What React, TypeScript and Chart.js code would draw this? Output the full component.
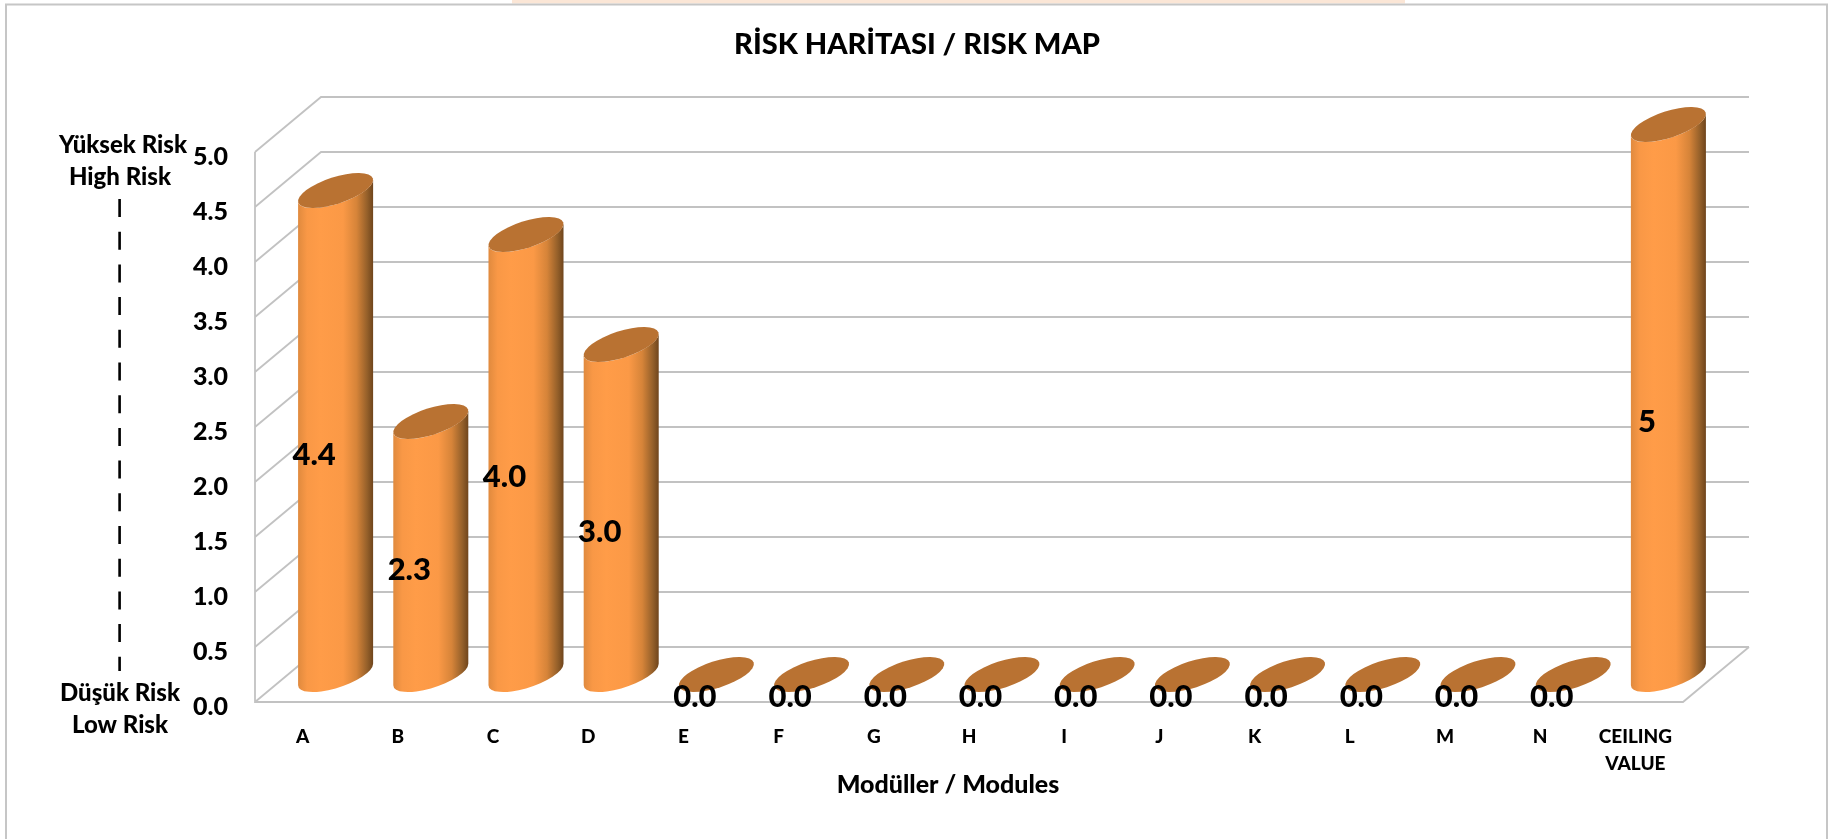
import React, { useEffect, useRef } from "react";
import { Chart, BarController, BarElement, CategoryScale, LinearScale, Title } from "chart.js";

const categories: (string | string[])[] = ["A", "B", "C", "D", "E", "F", "G", "H", "I", "J", "K", "L", "M", "N", ["CEILING", "VALUE"]];
const riskValues = [4.4, 2.3, 4.0, 3.0, 0, 0, 0, 0, 0, 0, 0, 0, 0, 0, 5];
const valueLabels = ["4.4", "2.3", "4.0", "3.0", "0.0", "0.0", "0.0", "0.0", "0.0", "0.0", "0.0", "0.0", "0.0", "0.0", "5"];
const yMin = 0;
const yMax = 5;
const yStep = 0.5;
const chartTitle = "RİSK HARİTASI / RISK MAP";
const xAxisTitle = "Modüller / Modules";
const highRiskLines = ["Yüksek Risk", "High Risk"];
const lowRiskLines = ["Düşük Risk", "Low Risk"];

const FONT = "Lato, Carlito, Calibri, sans-serif";
const DEPTH_X = 33;
const DEPTH_Y = 27.5;
const GRID = "#c2c2c2";

const A = 39.2;
const B = 13.3;
const ROT = (-18 * Math.PI) / 180;
const T0 = Math.atan((-B / A) * Math.tan(ROT));

class CylinderElement extends BarElement {
  static id = "cylinder";
  static defaults = BarElement.defaults;
  draw(ctx: CanvasRenderingContext2D) {
    const { x, y, base } = (this as any).getProps(["x", "y", "base"]);
    const halfW = Math.sqrt(A * A * Math.cos(ROT) ** 2 + B * B * Math.sin(ROT) ** 2);
    const dy = ((A * A - B * B) * Math.sin(ROT) * Math.cos(ROT)) / halfW;
    ctx.save();
    if (base - y > 0.5) {
      const g = ctx.createLinearGradient(x - halfW, 0, x + halfW, 0);
      g.addColorStop(0, "#e08a3e");
      g.addColorStop(0.12, "#f99846");
      g.addColorStop(0.3, "#ff9c48");
      g.addColorStop(0.6, "#fb9946");
      g.addColorStop(0.78, "#d68439");
      g.addColorStop(0.92, "#95602a");
      g.addColorStop(1, "#6f451c");
      ctx.fillStyle = g;
      ctx.beginPath();
      ctx.moveTo(x - halfW, y - dy);
      ctx.lineTo(x - halfW, base - dy);
      ctx.ellipse(x, base, A, B, ROT, T0 + Math.PI, T0, true);
      ctx.lineTo(x + halfW, y + dy);
      ctx.ellipse(x, y, A, B, ROT, T0, T0 + Math.PI, false);
      ctx.closePath();
      ctx.fill();
    }
    ctx.fillStyle = "#b97232";
    ctx.beginPath();
    ctx.ellipse(x, y, A, B, ROT, 0, Math.PI * 2);
    ctx.fill();
    ctx.restore();
  }
}

class CylinderController extends BarController {
  static id = "cylinder";
  static defaults = { ...BarController.defaults, dataElementType: "cylinder" };
  static overrides = BarController.overrides;
}

Chart.register(CylinderController, CylinderElement, CategoryScale, LinearScale, Title);

const scene3d = {
  id: "scene3d",
  afterLayout(chart: any) {
    chart.titleBlock.left = 0;
    chart.titleBlock.right = chart.width + 5;
  },
  beforeDraw(chart: any) {
    const { ctx, width, height } = chart;
    ctx.save();
    ctx.fillStyle = "#ffffff";
    ctx.fillRect(0, 0, width, height);
    ctx.fillStyle = "#fbe6d6";
    ctx.fillRect(512, 0, 893, 3.5);
    ctx.strokeStyle = "#c6c6c6";
    ctx.lineWidth = 2;
    ctx.beginPath();
    ctx.moveTo(6, height);
    ctx.lineTo(6, 4.5);
    ctx.lineTo(1827, 4.5);
    ctx.lineTo(1827, height);
    ctx.stroke();
    ctx.restore();
  },
  beforeDatasetsDraw(chart: any) {
    const { ctx, chartArea, scales } = chart;
    const y = scales.y;
    const frontL = chartArea.left - DEPTH_X;
    const frontR = chartArea.right - DEPTH_X;
    const backL = chartArea.left + DEPTH_X;
    const backR = chartArea.right + DEPTH_X;
    ctx.save();
    ctx.strokeStyle = GRID;
    ctx.lineWidth = 1.8;
    ctx.beginPath();
    y.ticks.forEach((t: any) => {
      const p = y.getPixelForValue(t.value);
      ctx.moveTo(frontL, p + DEPTH_Y);
      ctx.lineTo(backL, p - DEPTH_Y);
      ctx.lineTo(backR, p - DEPTH_Y);
    });
    const top = y.getPixelForValue(yMax);
    const bottom = y.getPixelForValue(yMin);
    ctx.moveTo(frontL, top + DEPTH_Y);
    ctx.lineTo(frontL, bottom + DEPTH_Y);
    ctx.lineTo(frontR, bottom + DEPTH_Y);
    ctx.lineTo(backR, bottom - DEPTH_Y);
    ctx.stroke();
    ctx.restore();
  },
  afterDatasetsDraw(chart: any) {
    const { ctx } = chart;
    const meta = chart.getDatasetMeta(0);
    ctx.save();
    ctx.fillStyle = "#000000";
    ctx.textAlign = "center";
    ctx.textBaseline = "middle";
    ctx.font = `900 31px ${FONT}`;
    meta.data.forEach((bar: any, i: number) => {
      ctx.fillText(valueLabels[i], bar.x - 21.5, (bar.y + bar.base) / 2 + 22);
    });
    ctx.font = `900 25px ${FONT}`;
    ctx.fillText(xAxisTitle, 948, 785);
    ctx.font = `900 24px ${FONT}`;
    ctx.fillText(highRiskLines[0], 123, 145);
    ctx.fillText(highRiskLines[1], 120, 177);
    ctx.fillText(lowRiskLines[0], 120, 693);
    ctx.fillText(lowRiskLines[1], 120, 725);
    ctx.strokeStyle = "#000000";
    ctx.lineWidth = 2.6;
    ctx.setLineDash([18, 14.7]);
    ctx.beginPath();
    ctx.moveTo(119.6, 199);
    ctx.lineTo(119.6, 671);
    ctx.stroke();
    ctx.restore();
  },
};

export default function App() {
  const ref = useRef<HTMLCanvasElement>(null);
  useEffect(() => {
    const chart = new Chart(ref.current as HTMLCanvasElement, {
      type: "cylinder" as any,
      data: {
        labels: categories as any,
        datasets: [
          {
            label: "Risk",
            data: riskValues,
            barThickness: 75,
            backgroundColor: "#ff9c48",
            clip: false as any,
          } as any,
        ],
      },
      plugins: [scene3d],
      options: {
        animation: false,
        responsive: false,
        devicePixelRatio: 1,
        layout: { padding: { left: 0, right: 113, top: 0, bottom: 0 } },
        plugins: {
          legend: { display: false },
          tooltip: { enabled: false },
          title: {
            display: true,
            text: chartTitle,
            color: "#000000",
            font: { family: FONT, size: 29, weight: "900", lineHeight: 1.2 },
            padding: { top: 27.6, bottom: 62.1 },
          },
        },
        scales: {
          x: {
            type: "category",
            offset: true,
            grid: { display: false },
            border: { display: false },
            afterFit(s: any) {
              s.height = 164.5;
            },
            ticks: {
              autoSkip: false,
              maxRotation: 0,
              minRotation: 0,
              padding: 41,
              labelOffset: -DEPTH_X,
              color: "#000000",
              font: { family: FONT, size: 19, weight: "900", lineHeight: 1.42 },
            },
          },
          y: {
            type: "linear",
            min: yMin,
            max: yMax,
            grid: { display: false },
            border: { display: false },
            afterFit(s: any) {
              s.width = 288;
            },
            ticks: {
              stepSize: yStep,
              padding: 52,
              labelOffset: DEPTH_Y + 4.5,
              color: "#000000",
              font: { family: FONT, size: 25, weight: "900" },
              callback: (v: any) => Number(v).toFixed(1),
            },
          },
        },
      } as any,
    });
    return () => chart.destroy();
  }, []);
  return (
    <div style={{ position: "absolute", left: 0, top: 0, width: 1829, height: 839, overflow: "hidden" }}>
      <canvas ref={ref} width={1829} height={839} style={{ display: "block" }} />
    </div>
  );
}
